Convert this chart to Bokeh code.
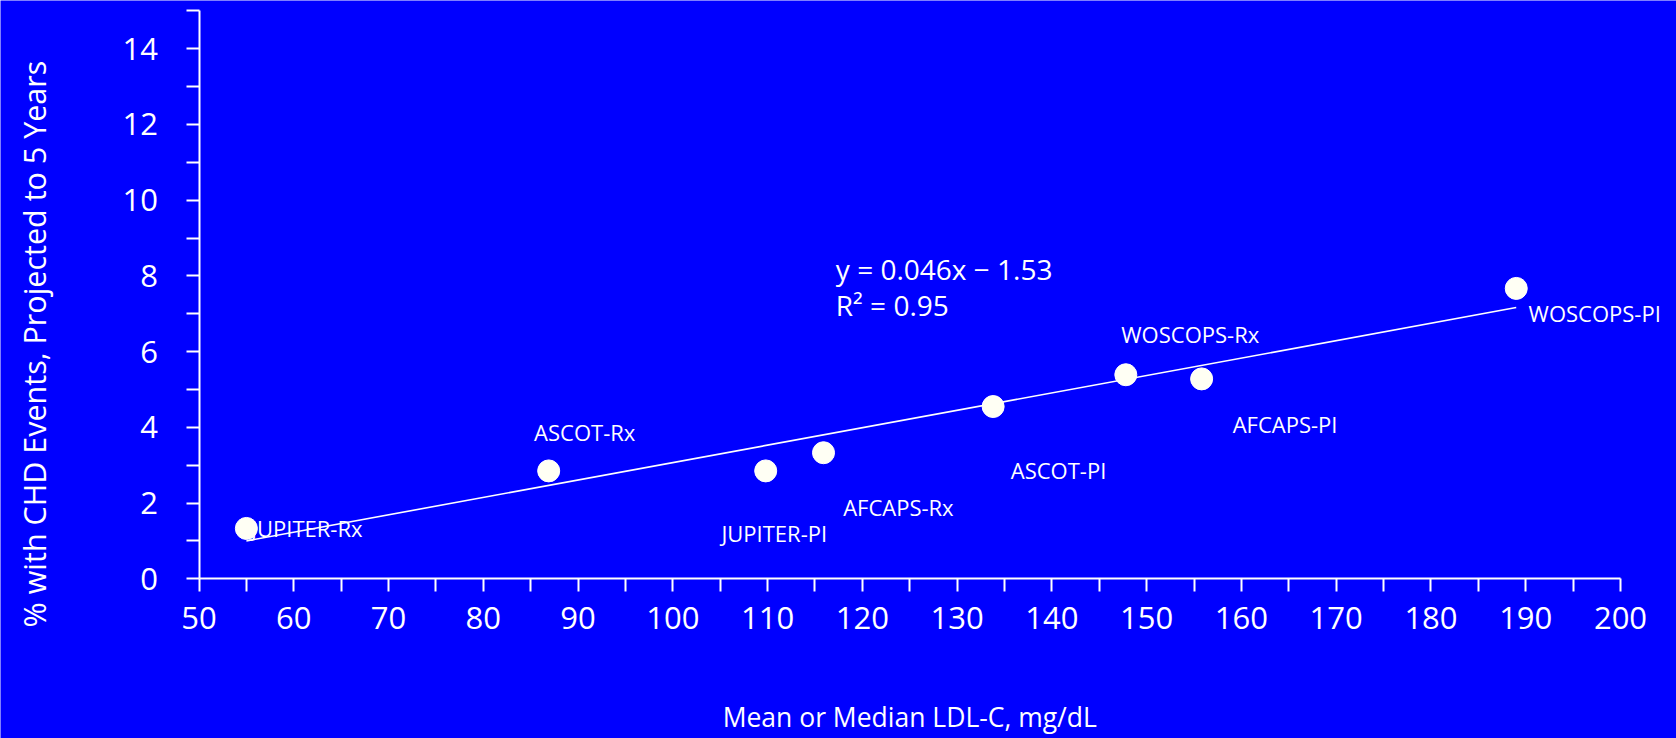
import math
from bokeh.plotting import figure
from bokeh.models import Range1d, FixedTicker, Label
from bokeh.embed import file_html
from bokeh.resources import INLINE

# ---- data ----
trials = ["JUPITER-Rx", "ASCOT-Rx", "JUPITER-PI", "AFCAPS-Rx",
          "ASCOT-PI", "WOSCOPS-Rx", "AFCAPS-PI", "WOSCOPS-PI"]
ldl_c = [55.0, 86.9, 109.8, 115.9, 133.8, 147.8, 155.8, 189.0]
chd_events = [1.33, 2.85, 2.85, 3.33, 4.55, 5.39, 5.28, 7.67]

fit_slope = 0.046
fit_intercept = -1.53
fit_r2 = 0.95

x_ticks = [50, 60, 70, 80, 90, 100, 110, 120, 130, 140, 150, 160, 170, 180, 190, 200]
y_ticks = [0, 2, 4, 6, 8, 10, 12, 14]

# label anchor positions (data coords) and alignment
label_x = [55.5, 90.7, 110.7, 123.8, 140.7, 154.6, 164.6, 190.3]
label_y = [1.33, 3.87, 1.22, 1.89, 2.87, 6.47, 4.1, 7.02]
label_align = ["left", "center", "center", "center", "center", "center", "center", "left"]

BLUE = "#0000FF"
WHITE = "#FFFFFF"
FONT = "Open Sans"

# ---- layout: the frame covers the whole canvas; axes sit at fixed data locations ----
W, H = 1676, 738
X0_PX, X1_PX = 198.5, 1620.0      # pixel positions of x = 50 and x = 200
Y0_PX, Y15_PX = 578.3, 10.4       # pixel positions of y = 0 and y = 15
kx = (X1_PX - X0_PX) / 150.0
ky = (Y0_PX - Y15_PX) / 15.0
x_range = Range1d(50 - X0_PX / kx, 50 + (W - X0_PX) / kx)
y_range = Range1d(-(H - Y0_PX) / ky, 15 + Y15_PX / ky)

p = figure(width=W, height=H, output_backend="svg", toolbar_location=None,
           x_range=x_range, y_range=y_range,
           min_border_left=0, min_border_right=0, min_border_top=0, min_border_bottom=0)
p.background_fill_color = BLUE
p.border_fill_color = None
p.outline_line_color = None
p.grid.visible = False

# axes
p.xaxis.ticker = FixedTicker(ticks=x_ticks, minor_ticks=[t + 5 for t in x_ticks[:-1]])
p.yaxis.ticker = FixedTicker(ticks=y_ticks, minor_ticks=[t + 1 for t in y_ticks])
p.xaxis.bounds = (50, 200)
p.yaxis.bounds = (0, 15)
p.xaxis.fixed_location = 0
p.yaxis.fixed_location = 50
for ax in (p.xaxis, p.yaxis):
    ax.axis_line_color = WHITE
    ax.axis_line_width = 2
    ax.major_tick_line_color = WHITE
    ax.minor_tick_line_color = WHITE
    ax.major_tick_line_width = 2
    ax.minor_tick_line_width = 2
    ax.major_tick_in = 0
    ax.minor_tick_in = 0
    ax.major_tick_out = 13
    ax.minor_tick_out = 13
    ax.major_label_text_color = WHITE
    ax.major_label_text_font = FONT
    ax.major_label_text_font_size = "31px"
p.xaxis.major_label_standoff = 15
p.yaxis.major_label_standoff = 28

# axis titles
p.add_layout(Label(x=125.0, y=-3.66, text="Mean or Median LDL-C, mg/dL",
                   text_align="center", text_baseline="middle", text_color=WHITE,
                   text_font=FONT, text_font_size="26.5px"))
p.add_layout(Label(x=32.54, y=6.2, text="% with CHD Events, Projected to 5 Years",
                   angle=math.pi / 2, text_align="center", text_baseline="middle",
                   text_color=WHITE, text_font=FONT, text_font_size="30.5px"))

# data labels (under the line and markers)
for name, lx, ly, al in zip(trials, label_x, label_y, label_align):
    p.add_layout(Label(x=lx, y=ly, text=name, text_align=al, text_baseline="middle",
                       text_color=WHITE, text_font=FONT, text_font_size="22px",
                       level="underlay"))

# trend line
fx = [min(ldl_c), max(ldl_c)]
fy = [fit_slope * v + fit_intercept for v in fx]
p.line(fx, fy, line_color=WHITE, line_width=1.6)

# points
p.scatter(ldl_c, chd_events, size=22, fill_color="#FFFFF4", line_color=WHITE, line_width=1)

# equation
p.add_layout(Label(x=117.2, y=8.17, text=f"y = {fit_slope}x \u2212 {abs(fit_intercept)}",
                   text_align="left", text_baseline="middle", text_color=WHITE,
                   text_font=FONT, text_font_size="28px"))
p.add_layout(Label(x=117.2, y=7.22, text=f"R\u00b2 = {fit_r2}",
                   text_align="left", text_baseline="middle", text_color=WHITE,
                   text_font=FONT, text_font_size="28px"))

open("out.html", "w").write(file_html(p, INLINE))
